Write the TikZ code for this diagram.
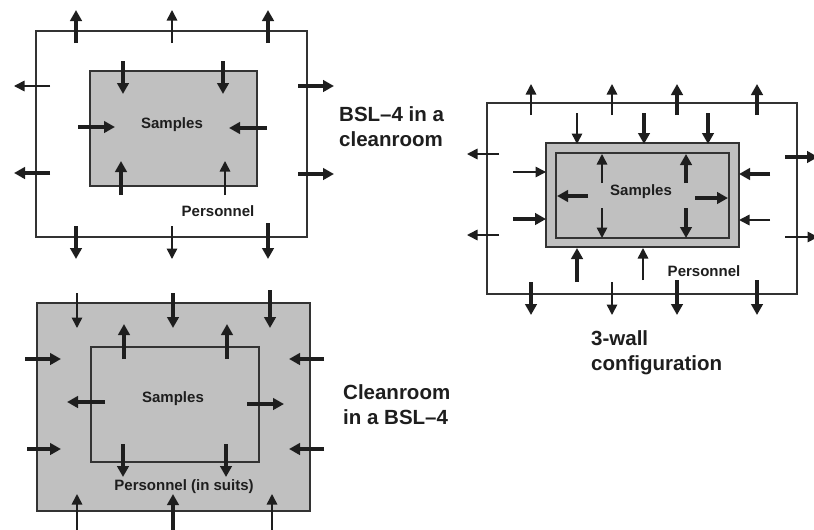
\documentclass[tikz,border=0pt]{standalone}
\usepackage{fontspec}
\setmainfont{Liberation Sans}
\usetikzlibrary{arrows.meta}
\definecolor{wallgray}{HTML}{C0C0C0}
\definecolor{ink}{HTML}{1E1E1E}
\definecolor{edge}{HTML}{333333}
\begin{document}
\begin{tikzpicture}[x=1pt,y=-1pt,
  thk/.style={line width=3.4pt,draw=ink,-{Triangle[length=11pt,width=11.5pt]}},
  thn/.style={line width=1.6pt,draw=ink,-{Triangle[length=10.5pt,width=10.5pt]}},
  wall/.style={draw=edge,line width=1.8pt},
  small/.style={text=ink,font=\bfseries\fontsize{15}{17}\selectfont,inner sep=0pt},
  caption/.style={text=ink,font=\bfseries\fontsize{20.5}{25}\selectfont,inner sep=0pt,anchor=west}]
\fill[white] (0,0) rectangle (814,530);
\useasboundingbox (0,0) rectangle (814,530);
\clip (0,0) rectangle (814,530);

% ---------- Top-left: BSL-4 in a cleanroom ----------
\draw[wall] (36,31) rectangle (307,237);
\draw[wall,fill=wallgray] (90,71) rectangle (257,186);
\draw[thk] (76,43) -- (76,10);
\draw[thn] (172,43) -- (172,10);
\draw[thk] (268,43) -- (268,10);
\draw[thn] (50,86) -- (14,86);
\draw[thk] (50,173) -- (14,173);
\draw[thk] (298,86) -- (334,86);
\draw[thk] (298,174) -- (334,174);
\draw[thk] (76,226) -- (76,259);
\draw[thn] (172,226) -- (172,259);
\draw[thk] (268,223) -- (268,259);
\draw[thk] (123,61) -- (123,94);
\draw[thk] (223,61) -- (223,94);
\draw[thk] (78,127) -- (115,127);
\draw[thk] (267,128) -- (229,128);
\draw[thk] (121,195) -- (121,161);
\draw[thn] (225,195) -- (225,161);
\node[small] (s1) at (172,125) {Samples};
\node[small] (p1) at (218,211) {Personnel};
\node[caption] (c1a) at (339,114) {BSL–4 in a};
\node[caption] (c1b) at (339,139) {cleanroom};

% ---------- Bottom-left: Cleanroom in a BSL-4 ----------
\draw[wall,fill=wallgray] (37,303) rectangle (310,511);
\draw[wall] (91,347) rectangle (259,462);
\draw[thn] (77,293) -- (77,328);
\draw[thk] (173,293) -- (173,328);
\draw[thk] (270,290) -- (270,328);
\draw[thk] (25,359) -- (61,359);
\draw[thk] (27,449) -- (61,449);
\draw[thk] (324,359) -- (289,359);
\draw[thk] (324,449) -- (289,449);
\draw[thk] (124,359) -- (124,324);
\draw[thk] (227,359) -- (227,324);
\draw[thk] (105,402) -- (67,402);
\draw[thk] (247,404) -- (284,404);
\draw[thk] (123,444) -- (123,477);
\draw[thk] (226,444) -- (226,477);
\draw[thn] (77,531) -- (77,494);
\draw[thk] (173,531) -- (173,494);
\draw[thn] (272,531) -- (272,494);
\node[small] (s2) at (173,399) {Samples};
\node[small] (p2) at (184,487) {Personnel (in suits)};
\node[caption] (c2a) at (343,392) {Cleanroom};
\node[caption] (c2b) at (343,417) {in a BSL–4};

% ---------- Right: 3-wall configuration ----------
\draw[wall] (487,103) rectangle (797,294);
\draw[wall,fill=wallgray] (546,143) rectangle (739,247);
\draw[wall,fill=wallgray] (556,153) rectangle (729,238);
\draw[thn] (531,115) -- (531,84);
\draw[thn] (612,115) -- (612,84);
\draw[thk] (677,115) -- (677,84);
\draw[thk] (757,115) -- (757,84);
\draw[thn] (499,154) -- (467,154);
\draw[thn] (499,235) -- (467,235);
\draw[thk] (785,157) -- (818,157);
\draw[thn] (785,237) -- (818,237);
\draw[thk] (531,282) -- (531,315);
\draw[thn] (612,282) -- (612,315);
\draw[thk] (677,280) -- (677,315);
\draw[thk] (757,280) -- (757,315);
\draw[thn] (577,113) -- (577,144);
\draw[thk] (644,113) -- (644,144);
\draw[thk] (708,113) -- (708,144);
\draw[thn] (513,172) -- (546,172);
\draw[thk] (513,219) -- (546,219);
\draw[thk] (770,174) -- (739,174);
\draw[thn] (770,220) -- (739,220);
\draw[thk] (577,282) -- (577,248);
\draw[thn] (643,280) -- (643,248);
\draw[thn] (602,183) -- (602,154);
\draw[thk] (686,183) -- (686,154);
\draw[thk] (588,196) -- (557,196);
\draw[thk] (695,198) -- (728,198);
\draw[thn] (602,208) -- (602,238);
\draw[thk] (686,208) -- (686,238);
\node[small] (s3) at (641,192) {Samples};
\node[small] (p3) at (704,271) {Personnel};
\node[caption] (c3a) at (591,338) {3-wall};
\node[caption] (c3b) at (591,365) {configuration};
\end{tikzpicture}
\end{document}
